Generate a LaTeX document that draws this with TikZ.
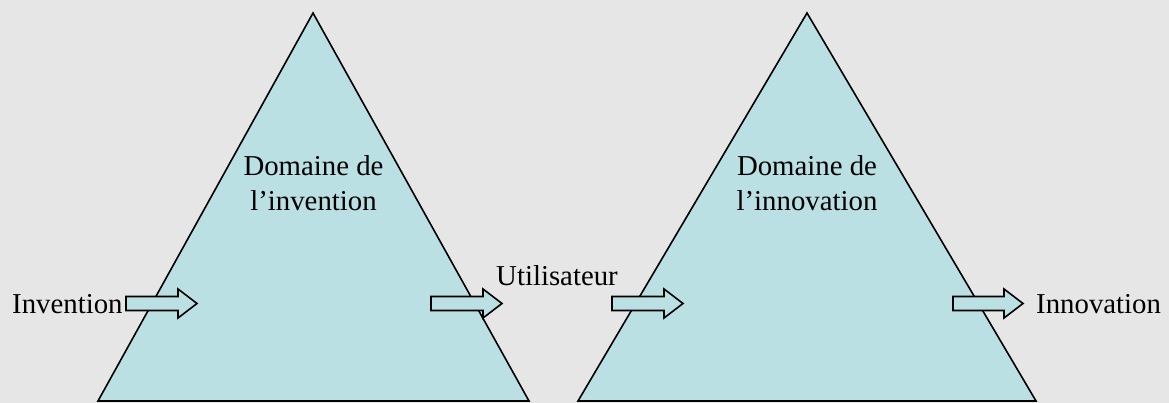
\documentclass[tikz,border=0pt]{standalone}
\usepackage{fontspec}
\setmainfont{Liberation Serif}
\definecolor{bg}{HTML}{E6E6E6}
\definecolor{tri}{HTML}{BAE0E3}
\tikzset{
  tribox/.style={fill=tri, draw=black, line width=1.6pt, line join=miter},
  arrowbox/.style={fill=tri, draw=black, line width=1.6pt, line join=miter},
  lbl/.style={font=\fontsize{28.8}{35}\selectfont, inner sep=0pt, text=black},
}
\newcommand\blockarrow[3]{%
  \draw[arrowbox] (#1,296.5) -- (#2-19,296.5) -- (#2-19,289) -- (#2,303.5) -- (#2-19,318) -- (#2-19,310.5) -- (#1,310.5) -- cycle;
  \coordinate (#3) at (#2,303.5);
}
\begin{document}
\begin{tikzpicture}[x=1pt,y=-1pt]
\fill[bg] (0,0) rectangle (1169,403);
\useasboundingbox (0,0) rectangle (1169,403);
% triangles
\draw[tribox] (313,13) -- (529,401) -- (98,401) -- cycle;
\draw[tribox] (807,13) -- (1036,401) -- (578,401) -- cycle;
% arrows
\blockarrow{126}{197}{a1}
\blockarrow{431}{502}{a2}
\blockarrow{612}{683}{a3}
\blockarrow{953}{1023}{a4}
% labels
\node[lbl, anchor=base west] (inv) at (12,313) {Invention};
\node[lbl, anchor=base west] (util) at (496,285) {Utilisateur};
\node[lbl, anchor=base west] (innov) at (1036,313) {Innovation};
\node[lbl, anchor=base, align=center] (d1) at (313.5,211) {Domaine de\\l’invention};
\node[lbl, anchor=base, align=center] (d2) at (807,211) {Domaine de\\l’innovation};
\end{tikzpicture}
\end{document}
